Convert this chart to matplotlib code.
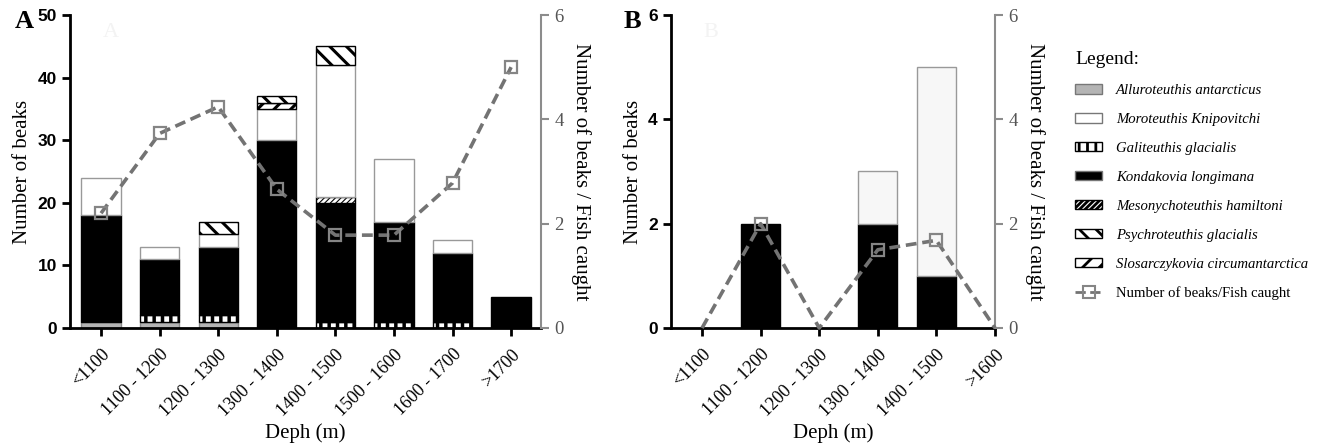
import numpy as np
import matplotlib
matplotlib.use('Agg')
from matplotlib import pyplot as plt
from matplotlib.patches import Patch
from matplotlib.lines import Line2D

plt.rcParams['font.family'] = 'Liberation Serif'
plt.rcParams['hatch.linewidth'] = 2.0

# panel A data
depth_a = ['<1100', '1100 - 1200', '1200 - 1300', '1300 - 1400',
           '1400 - 1500', '1500 - 1600', '1600 - 1700', '>1700']
allur_a = [1, 1, 1, 0, 0, 0, 0, 0]
gali_a = [0, 1, 1, 0, 1, 1, 1, 0]
kond_a = [17, 9, 11, 30, 19, 16, 11, 5]
meson_a = [0, 0, 0, 0, 1, 0, 0, 0]
moro_a = [6, 2, 2, 5, 21, 10, 2, 0]
slos_a = [0, 0, 0, 1, 0, 0, 0, 0]
psych_a = [0, 0, 2, 1, 3, 0, 0, 0]
ratio_a = [2.2, 3.73, 4.24, 2.66, 1.78, 1.78, 2.78, 5.0]

# panel B data
depth_b = ['<1100', '1100 - 1200', '1200 - 1300', '1300 - 1400',
           '1400 - 1500', '>1600']
kond_b = [0, 2, 0, 2, 1, 0]
moro_b = [0, 0, 0, 1, 4, 0]
ratio_b = [0, 2.0, 0, 1.5, 1.68, 0]

species = ['Alluroteuthis antarcticus', 'Moroteuthis Knipovitchi',
           'Galiteuthis glacialis', 'Kondakovia longimana',
           'Mesonychoteuthis hamiltoni', 'Psychroteuthis glacialis',
           'Slosarczykovia circumantarctica']

styles = {
    'Alluroteuthis antarcticus': dict(facecolor='#b4b4b4', edgecolor='#8a8a8a', hatch=None, hlw=1),
    'Moroteuthis Knipovitchi': dict(facecolor='white', edgecolor='#999999', hatch=None, hlw=1),
    'Galiteuthis glacialis': dict(facecolor='white', edgecolor='black', hatch='||', hlw=2.5),
    'Kondakovia longimana': dict(facecolor='black', edgecolor='black', hatch=None, hlw=1),
    'Mesonychoteuthis hamiltoni': dict(facecolor='white', edgecolor='black', hatch='//////', hlw=0.8),
    'Psychroteuthis glacialis': dict(facecolor='white', edgecolor='black', hatch='\\\\', hlw=2.2),
    'Slosarczykovia circumantarctica': dict(facecolor='white', edgecolor='black', hatch='//', hlw=2.2),
}

line_col = '#737373'
spine_gray = '#8c8c8c'
bw = 0.67


def draw_bars(ax, x, layers, moro_face='white'):
    bottom = np.zeros(len(x))
    for name, vals in layers:
        st = styles[name]
        vals = np.array(vals, dtype=float)
        fc = moro_face if name == 'Moroteuthis Knipovitchi' else st['facecolor']
        bars = ax.bar(x, vals, bw, bottom=bottom, color=fc,
                      edgecolor=st['edgecolor'], linewidth=1.0,
                      hatch=st['hatch'], zorder=2)
        for b, v in zip(bars, vals):
            if v == 0:
                b.set_visible(False)
            if hasattr(b, 'set_hatch_linewidth'):
                b.set_hatch_linewidth(st['hlw'])
        bottom += vals


def style_axes(ax, ax2, labels, ymax, yticks):
    ax.spines['top'].set_visible(False)
    ax.spines['right'].set_visible(False)
    ax.spines['left'].set_linewidth(2)
    ax.spines['bottom'].set_linewidth(2)
    ax.set_ylim(0, ymax)
    ax.set_yticks(yticks)
    ax.set_xticks(range(len(labels)))
    ax.set_xticklabels(labels, rotation=45, ha='right', rotation_mode='anchor',
                       fontsize=13)
    for t in ax.get_yticklabels():
        t.set_fontfamily('Liberation Sans')
        t.set_fontweight('bold')
        t.set_fontsize(12.5)
    ax.tick_params(axis='both', width=2, length=6, direction='out')
    ax.tick_params(axis='x', pad=7)
    ax.set_ylabel('Number of beaks', fontsize=15, labelpad=4)
    ax.set_xlabel('Deph (m)', fontsize=15, labelpad=3)

    for s in ['top', 'left', 'bottom']:
        ax2.spines[s].set_visible(False)
    ax2.spines['right'].set_color(spine_gray)
    ax2.spines['right'].set_linewidth(1.5)
    ax2.set_ylim(0, 6)
    ax2.set_yticks([0, 2, 4, 6])
    ax2.tick_params(axis='y', colors='#555555', width=1.5, length=6,
                    labelsize=13.5, color=spine_gray)
    ax2.set_ylabel('Number of beaks / Fish caught', fontsize=15,
                   rotation=-90, labelpad=20)


fig = plt.figure(figsize=(13.22, 4.48), dpi=100)

# panel A
axA = fig.add_axes([70 / 1322, 1 - 328 / 448, 471 / 1322, 313 / 448])
xa = np.arange(len(depth_a))
draw_bars(axA, xa, [('Alluroteuthis antarcticus', allur_a),
                    ('Galiteuthis glacialis', gali_a),
                    ('Kondakovia longimana', kond_a),
                    ('Mesonychoteuthis hamiltoni', meson_a),
                    ('Moroteuthis Knipovitchi', moro_a),
                    ('Slosarczykovia circumantarctica', slos_a),
                    ('Psychroteuthis glacialis', psych_a)])
axA.set_xlim(-0.53, len(depth_a) - 0.49)
axA2 = axA.twinx()
axA2.plot(xa, ratio_a, color=line_col, linestyle='--', linewidth=2.6,
          dashes=(3, 1.6), marker='s', markersize=9, markerfacecolor='none',
          markeredgecolor='#858585', markeredgewidth=1.6, zorder=3)
style_axes(axA, axA2, depth_a, 50, [0, 10, 20, 30, 40, 50])
axA.text(0.07, 0.93, 'A', transform=axA.transAxes, fontsize=16, color='#f3f3f3')

# panel B
axB = fig.add_axes([671 / 1322, 1 - 328 / 448, 324 / 1322, 313 / 448])
xb = np.arange(len(depth_b))
draw_bars(axB, xb, [('Kondakovia longimana', kond_b),
                    ('Moroteuthis Knipovitchi', moro_b)], moro_face='#f7f7f7')
axB.set_xlim(-0.53, len(depth_b) - 1)
axB2 = axB.twinx()
nz = [i for i, v in enumerate(ratio_b) if v > 0]
axB2.plot(xb, ratio_b, color=line_col, linestyle='--', linewidth=2.6,
          dashes=(3, 1.6), marker='s', markersize=9, markerfacecolor='none',
          markeredgecolor='#858585', markeredgewidth=1.6, markevery=nz,
          zorder=3, clip_on=False)
style_axes(axB, axB2, depth_b, 6, [0, 2, 4, 6])
axB.text(0.1, 0.93, 'B', transform=axB.transAxes, fontsize=16, color='#f3f3f3')

fig.text(15 / 1322, 1 - 22 / 448, 'A', fontsize=19, fontweight='bold', va='center')
fig.text(624 / 1322, 1 - 22 / 448, 'B', fontsize=19, fontweight='bold', va='center')

# legend
handles = []
for name in species:
    st = styles[name]
    p = Patch(facecolor=st['facecolor'], edgecolor=st['edgecolor'] if st['hatch'] else '#777777',
              hatch=st['hatch'], linewidth=1.0)
    if hasattr(p, 'set_hatch_linewidth'):
        p.set_hatch_linewidth(min(st['hlw'], 1.5))
    handles.append(p)
handles.append(Line2D([], [], color=line_col, linestyle='--', linewidth=2,
                      marker='s', markersize=8, markerfacecolor='none',
                      markeredgecolor='#858585', markeredgewidth=1.5))
labels = species + ['Number of beaks/Fish caught']
leg = fig.legend(handles, labels, loc='upper left',
                 bbox_to_anchor=(1062 / 1322, 1 - 38 / 448), frameon=False,
                 title='Legend:', alignment='left', fontsize=10.6,
                 title_fontsize=14, labelspacing=1.08, handlelength=1.8,
                 handleheight=0.6, handletextpad=0.95)
for t in leg.get_texts()[:-1]:
    t.set_fontstyle('italic')

fig.savefig('out.png', dpi=100)
